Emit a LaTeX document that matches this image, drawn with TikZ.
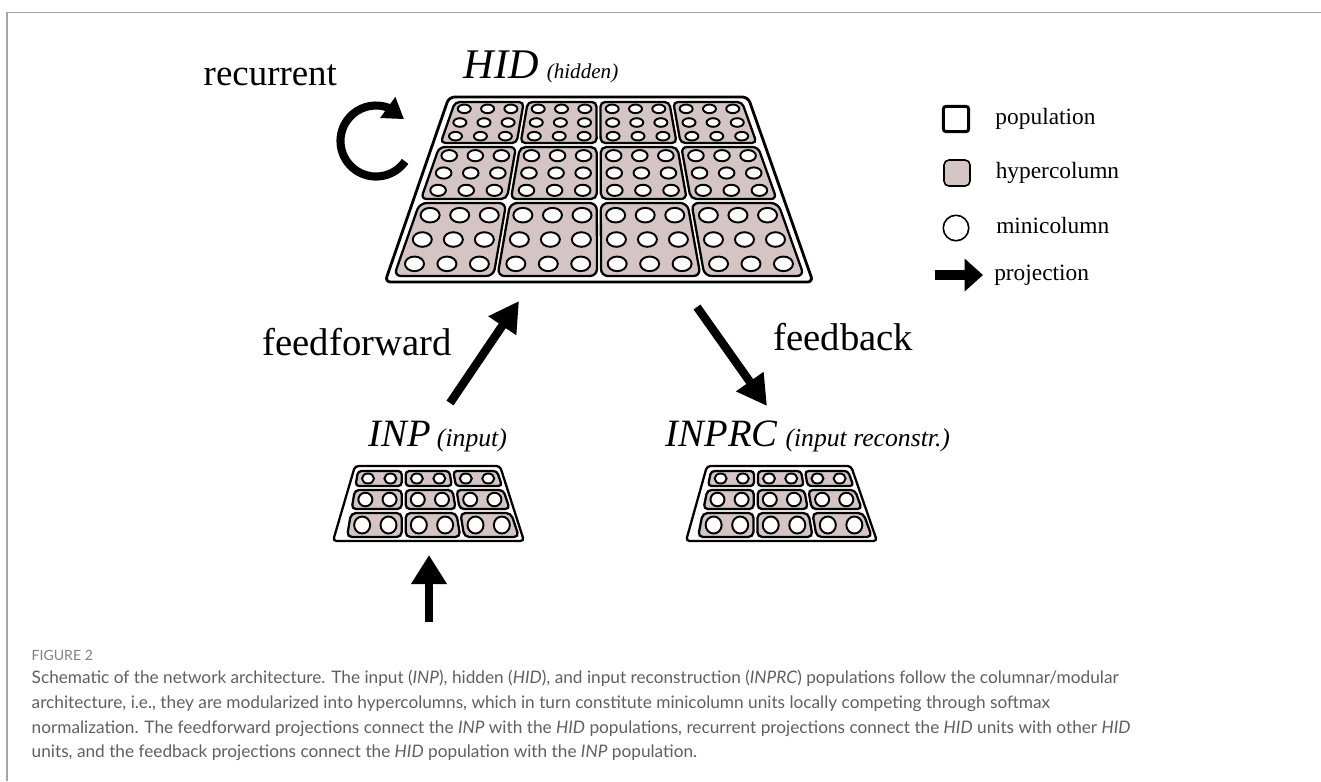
\documentclass[tikz,border=0pt]{standalone}
\usepackage{fontspec}
\setmainfont{Liberation Serif}
\newfontfamily\capfont{Lato}
\usepackage{xcolor}
\usepackage{tikz}
\usetikzlibrary{positioning,calc,arrows.meta,bending}

\definecolor{hcfill}{RGB}{213,196,196}
\definecolor{capgray}{RGB}{95,95,95}
\definecolor{rulegray}{RGB}{165,165,165}

% hypercolumns of one population: inner corners TLx, TRx, BLx, BRx, top y, bottom y,
% hypercolumns per row, rows as ya/yb/rx/ry/corner/minicols/minirows
\newcommand{\hcgap}{4}
\newcommand{\hypergrid}[8]{%
  \foreach \ya/\yb/\rx/\ry/\rc/\mc/\mr in {#8} {
    \foreach \col in {1,...,#7} {
      \pgfmathsetmacro\hta{(\ya-#5)/(#6-#5)}
      \pgfmathsetmacro\htb{(\yb-#5)/(#6-#5)}
      \pgfmathsetmacro\hla{#1+(#3-#1)*\hta}
      \pgfmathsetmacro\hra{#2+(#4-#2)*\hta}
      \pgfmathsetmacro\hlb{#1+(#3-#1)*\htb}
      \pgfmathsetmacro\hrb{#2+(#4-#2)*\htb}
      \pgfmathsetmacro\hwa{(\hra-\hla-(#7-1)*\hcgap)/#7}
      \pgfmathsetmacro\hwb{(\hrb-\hlb-(#7-1)*\hcgap)/#7}
      \pgfmathsetmacro\hxa{\hla+(\col-1)*(\hwa+\hcgap)}
      \pgfmathsetmacro\hxb{\hlb+(\col-1)*(\hwb+\hcgap)}
      \coordinate (hp) at (\hxa,\ya);
      \coordinate (hq) at (\hxa+\hwa,\ya);
      \coordinate (hr) at (\hxb+\hwb,\yb);
      \coordinate (hs) at (\hxb,\yb);
      \draw[hyper, rounded corners=\rc] (hp) -- (hq) -- (hr) -- (hs) -- cycle;
      % minicolumns
      \foreach \i in {1,...,\mc} {
        \foreach \j in {1,...,\mr} {
          \pgfmathsetmacro\fu{(2*\i-1)/(2*\mc)}
          \pgfmathsetmacro\fv{(2*\j-1)/(2*\mr)}
          \coordinate (mt) at ($(hp)!\fu!(hq)$);
          \coordinate (mb) at ($(hs)!\fu!(hr)$);
          \draw[mini] ($(mt)!\fv!(mb)$) ellipse[x radius=\rx*0.01cm, y radius=\ry*0.01cm];
        }
      }
    }
  }
}

\begin{document}
\begin{tikzpicture}[
        x=0.01cm, y=-0.01cm,
        popline/.style={draw, line width=0.8pt, rounded corners=1.6pt, fill=white},
        hyper/.style={draw, line width=0.65pt, fill=hcfill},
        mini/.style={draw, line width=0.55pt, fill=white},
        lab/.style={anchor=base west, inner sep=0pt},
        proj/.style={line width=2.4pt, -{Triangle[length=8.5pt, width=9pt]}},
        legtext/.style={inner sep=0pt, font=\fontsize{6.65}{8}\selectfont, text height=4.65pt, text depth=1.46pt},
        caption/.style={anchor=base west, inner sep=0pt, font=\capfont\fontsize{4.9}{7}\selectfont, text=capgray}
    ]
    \useasboundingbox (0,0) rectangle (1321,781);

    % frame lines
    \draw[rulegray, line width=0.4pt] (7,781) -- (7,12.5) -- (1321,12.5);

    % HID population
    \coordinate (hid-nw) at (449,97);
    \coordinate (hid-ne) at (748,97);
    \coordinate (hid-se) at (813,282);
    \coordinate (hid-sw) at (385,282);
    \draw[popline] (hid-nw) -- (hid-ne) -- (hid-se) -- (hid-sw) -- cycle;
    \hypergrid{455}{742}{394}{804}{102}{276}{4}{102/143/6.5/4.3/1.3pt/3/3, 147/199/7.8/5.6/1.6pt/3/3, 203/276/9.5/7.3/2pt/3/3}

    % INP population
    \coordinate (inp-nw) at (355,466);
    \coordinate (inp-ne) at (500,466);
    \coordinate (inp-se) at (524,541);
    \coordinate (inp-sw) at (333,541);
    \draw[popline, line width=0.65pt, rounded corners=1pt] (inp-nw) -- (inp-ne) -- (inp-se) -- (inp-sw) -- cycle;
    \hypergrid{358}{497}{347}{519}{471}{537}{3}{471/486/6/5/1pt/2/1, 490/509/7/6.8/1.2pt/2/1, 513/537/8/8.5/1.4pt/2/1}

    % INPRC population
    \coordinate (rc-nw) at (707,466);
    \coordinate (rc-ne) at (851,466);
    \coordinate (rc-se) at (877,541);
    \coordinate (rc-sw) at (686,541);
    \draw[popline, line width=0.65pt, rounded corners=1pt] (rc-nw) -- (rc-ne) -- (rc-se) -- (rc-sw) -- cycle;
    \hypergrid{711}{848}{698}{872}{471}{537}{3}{471/486/6/5/1pt/2/1, 490/509/7/6.8/1.2pt/2/1, 513/537/8/8.5/1.4pt/2/1}

    % population labels
    \node[lab] (hidlabel) at (463,78) {\fontsize{12}{14}\selectfont\itshape HID\hspace{2.3pt}\fontsize{6}{7}\selectfont(hidden)};
    \node[lab] (inplabel) at (368,446) {\fontsize{11}{13}\selectfont\itshape INP\hspace{1.7pt}\fontsize{7.3}{9}\selectfont(input)};
    \node[lab] (inprclabel) at (665,446) {\fontsize{11}{13}\selectfont\itshape INPRC\hspace{2.3pt}\fontsize{7.3}{9}\selectfont(input reconstr.)};

    % projections
    \node[lab, font=\fontsize{10.5}{12}\selectfont] (reclabel) at (203,85) {recurrent};
    \node[lab, font=\fontsize{11}{13}\selectfont] (fflabel) at (262,355) {feedforward};
    \node[lab, font=\fontsize{11}{13}\selectfont] (fblabel) at (773,350) {feedback};

    \coordinate (rec) at (376,141);
    \draw[line width=2.3pt, -{Triangle[length=5.7pt, width=7pt]}] (rec) ++(-35:10.1pt) arc[start angle=-35, end angle=-322, radius=10.1pt];

    \coordinate (ff-s) at (450,403);
    \coordinate (ff-e) at (519,301);
    \coordinate (fb-s) at (697,307);
    \coordinate (fb-e) at (767,406);
    \coordinate (in-s) at (429,622);
    \coordinate (in-e) at (429,555);
    \draw[proj] (ff-s) -- (ff-e);
    \draw[proj] (fb-s) -- (fb-e);
    \draw[proj, -{Triangle[length=8.3pt, width=9.7pt]}] (in-s) -- (in-e);

    % legend
    \node[draw, line width=0.85pt, rounded corners=0.8pt, minimum size=7.2pt, inner sep=0pt] (lgpop) at (956,119) {};
    \node[legtext, right=7pt of lgpop] (lgpoptext) {population};
    \node[draw, line width=0.45pt, fill=hcfill, rounded corners=1.4pt, minimum size=7.4pt, inner sep=0pt] (lghyp) at (957,173) {};
    \node[legtext, right=6.9pt of lghyp] (lghyptext) {hypercolumn};
    \node[draw, circle, line width=0.45pt, minimum size=7.25pt, inner sep=0pt] (lgmini) at (956,228) {};
    \node[legtext, right=7.4pt of lgmini] (lgminitext) {minicolumn};
    \coordinate (lgarr-s) at (935,275);
    \coordinate (lgarr-e) at (983,275);
    \draw[line width=2.85pt, -{Triangle[length=5.2pt, width=9pt]}] (lgarr-s) -- (lgarr-e);
    \node[legtext, right=3pt of lgarr-e] (lgarrtext) {projection};

    % caption
    \node[caption, text=gray, font=\capfont\fontsize{4}{5}\selectfont] (figno) at (31,660) {FIGURE 2};
    \node[caption] (cap1) at (31,683) {Schematic of the network architecture. The input (\textit{INP}), hidden (\textit{HID}), and input reconstruction (\textit{INPRC}) populations follow the columnar/modular};
    \node[caption] (cap2) at (31,708) {architecture, i.e., they are modularized into hypercolumns, which in turn constitute minicolumn units locally competing through softmax};
    \node[caption] (cap3) at (31,733) {normalization. The feedforward projections connect the \textit{INP} with the \textit{HID} populations, recurrent projections connect the \textit{HID} units with other \textit{HID}};
    \node[caption] (cap4) at (31,757) {units, and the feedback projections connect the \textit{HID} population with the \textit{INP} population.};
\end{tikzpicture}
\end{document}
